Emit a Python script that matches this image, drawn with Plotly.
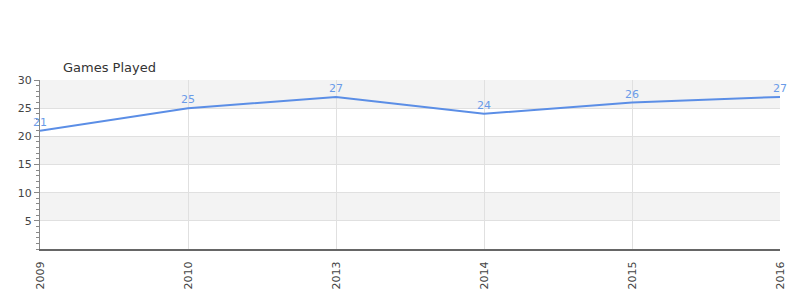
import plotly.graph_objects as go

years = ["2009", "2010", "2013", "2014", "2015", "2016"]
games = [21, 25, 27, 24, 26, 27]
y_ticks = [5, 10, 15, 20, 25, 30]
bands = [(5, 10), (15, 20), (25, 30)]

fig = go.Figure()
fig.add_trace(go.Scatter(
    x=years, y=games, mode="lines",
    line=dict(color="#5b8ee6", width=2),
    cliponaxis=False, showlegend=False,
))

for lo, hi in bands:
    fig.add_shape(type="rect", xref="paper", yref="y", x0=0, x1=1, y0=lo, y1=hi,
                  fillcolor="#f3f3f3", line_width=0, layer="below")

annots = [dict(x=i, y=g, text=str(g), xref="x", yref="y", showarrow=False,
               yanchor="bottom", yshift=0,
               font=dict(size=11, color="#6a9be8", family="DejaVu Sans"))
          for i, g in enumerate(games)]
annots.append(dict(text="Games Played", xref="paper", yref="paper", x=0.028, y=1.0,
                   xanchor="left", yanchor="bottom", yshift=3, showarrow=False,
                   font=dict(size=13, color="#333", family="DejaVu Sans")))

fig.update_layout(
    width=800, height=300,
    margin=dict(l=40, r=20, t=80, b=51),
    paper_bgcolor="white", plot_bgcolor="white",
    font=dict(family="DejaVu Sans", color="#333", size=11),
    annotations=annots,
)
fig.update_xaxes(type="category", range=[0, 5], tickangle=-90, showgrid=True,
                 gridcolor="#e0e0e0", showline=True, linecolor="#666", linewidth=2,
                 ticks="outside", ticklen=6, tickcolor="rgba(0,0,0,0)",
                 tickfont=dict(size=11, color="#444"))
fig.update_yaxes(range=[0, 30], tickvals=y_ticks, showgrid=True, gridcolor="#e0e0e0",
                 zeroline=True, zerolinecolor="#dd0000", zerolinewidth=2,
                 showline=True, linecolor="#888", linewidth=1,
                 ticks="outside", ticklen=5, tickcolor="#888",
                 minor=dict(dtick=1, ticks="outside", ticklen=3, tickcolor="#888", showgrid=False),
                 tickfont=dict(size=11, color="#444"))

fig.write_html("out.html")
